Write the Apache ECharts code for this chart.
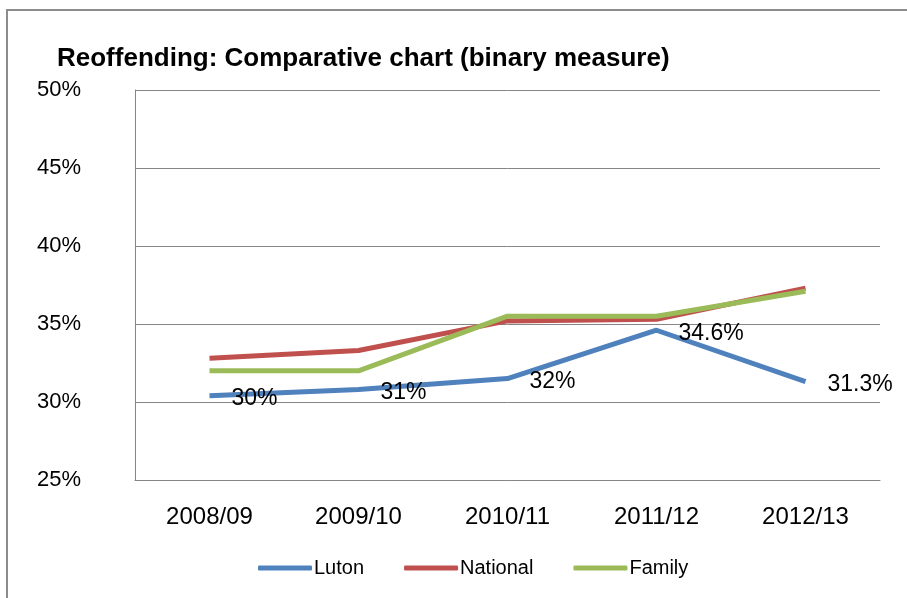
<!DOCTYPE html>
<html>
<head>
<meta charset="utf-8">
<script src="https://cdn.jsdelivr.net/npm/echarts@6/dist/echarts.min.js"></script>
<style>
  html, body { margin: 0; padding: 0; background: #fff; }
  #chart { width: 907px; height: 598px; }
</style>
</head>
<body>
<div id="chart"></div>
<script>
const years = ['2008/09', '2009/10', '2010/11', '2011/12', '2012/13']

// reoffending rates, %
const luton = [30.4, 30.8, 31.5, 34.6, 31.3]
const national = [32.8, 33.3, 35.2, 35.3, 37.3]
const family = [32.0, 32.0, 35.5, 35.5, 37.1]

// data labels shown on the Luton line
const lutonLabels = ['30%', '31%', '32%', '34.6%', '31.3%']

const font = 'Liberation Sans'

const chart = echarts.init(document.getElementById('chart'))

const option = {
  animation: false,
  textStyle: { fontFamily: font },
  title: {
    text: 'Reoffending: Comparative chart (binary measure)',
    left: 52,
    top: 41,
    textStyle: { fontFamily: font, fontSize: 26, fontWeight: 'bold', color: '#000' }
  },
  graphic: [
    {
      type: 'rect',
      shape: { x: 7, y: 10, width: 1000, height: 1000 },
      style: { fill: 'none', stroke: '#8c8c8c', lineWidth: 2 }
    }
  ],
  legend: {
    bottom: 15,
    left: 253,
    itemWidth: 54,
    itemHeight: 5,
    itemGap: 40,
    icon: 'roundRect',
    textStyle: { fontFamily: font, fontSize: 20, color: '#000', padding: [0, 0, 0, -3] },
    data: ['Luton', 'National', 'Family']
  },
  grid: {
    left: 135,
    right: 27,
    top: 90,
    bottom: 118
  },
  xAxis: {
    type: 'category',
    data: years,
    boundaryGap: true,
    axisLine: { lineStyle: { color: '#868686', width: 1 } },
    axisTick: { show: false },
    axisLabel: { color: '#000', fontSize: 24, margin: 25 }
  },
  yAxis: {
    type: 'value',
    min: 25,
    max: 50,
    interval: 5,
    axisLine: { show: true, lineStyle: { color: '#868686', width: 1 } },
    axisTick: { show: false },
    splitLine: { lineStyle: { color: '#868686', width: 1 } },
    axisLabel: { color: '#000', fontSize: 22, margin: 54, formatter: '{value}%' }
  },
  series: [
    {
      name: 'Luton',
      type: 'line',
      data: luton,
      symbol: 'circle',
      symbolSize: 0,
      showSymbol: true,
      color: '#4f81bd',
      lineStyle: { width: 5, color: '#4f81bd' },
      label: {
        show: true,
        position: 'right',
        distance: 22,
        offset: [0, 3],
        fontSize: 23,
        color: '#000',
        formatter: p => lutonLabels[p.dataIndex]
      },
      z: 3
    },
    {
      name: 'National',
      type: 'line',
      data: national,
      symbol: 'none',
      color: '#c0504d',
      lineStyle: { width: 5, color: '#c0504d' },
      z: 2
    },
    {
      name: 'Family',
      type: 'line',
      data: family,
      symbol: 'none',
      color: '#9bbb59',
      lineStyle: { width: 5, color: '#9bbb59' },
      z: 2
    }
  ]
}

chart.setOption(option)
</script>
</body>
</html>
